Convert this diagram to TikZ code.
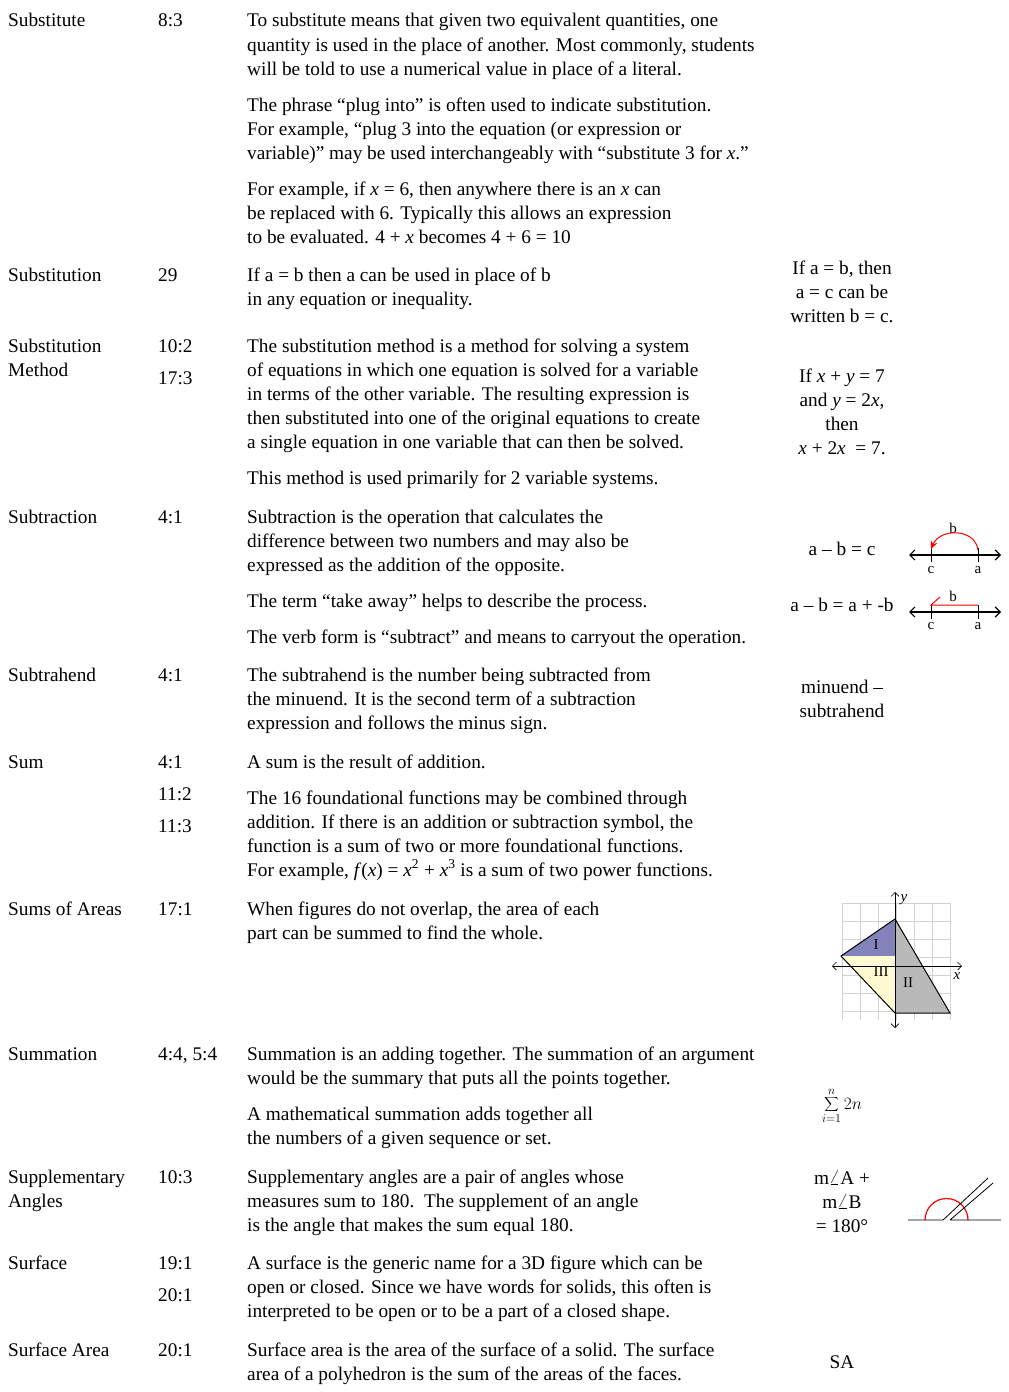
\documentclass[tikz,border=0pt]{standalone}
\usepackage{fontspec}
\setmainfont{Liberation Serif}
\usetikzlibrary{arrows.meta}
\begin{document}
\begin{tikzpicture}[x=1pt,y=-1pt,
  t/.style={anchor=base west,inner sep=0pt,font=\fontsize{19.3}{22}\selectfont},
  c/.style={anchor=base,inner sep=0pt,font=\fontsize{19.3}{22}\selectfont},
  sm/.style={inner sep=0pt,font=\fontsize{15}{16}\selectfont},
  nl/.style={line width=1.2pt,{Straight Barb[length=5pt,width=10pt]}-{Straight Barb[length=5pt,width=10pt]}}]
\useasboundingbox (0,0) rectangle (1009,1392);
\newcommand{\T}[3]{\node[t] at (#1,#2) {#3};}
\newcommand{\C}[3]{\node[c] at (#1,#2) {#3};}
% Substitute
\T{8}{27}{Substitute}\T{158}{27}{8:3}
\T{247}{27}{To substitute means that given two equivalent quantities, one}
\T{247}{51}{quantity is used in the place of another. Most commonly, students}
\T{247}{75}{will be told to use a numerical value in place of a literal.}
\T{247}{111}{The phrase “plug into” is often used to indicate substitution.}
\T{247}{135}{For example, “plug 3 into the equation (or expression or}
\T{247}{159}{variable)” may be used interchangeably with “substitute 3 for \textit{x}.”}
\T{247}{195}{For example, if \textit{x} = 6, then anywhere there is an \textit{x} can}
\T{247}{219}{be replaced with 6. Typically this allows an expression}
\T{247}{243}{to be evaluated. 4 + \textit{x} becomes 4 + 6 = 10}
% Substitution
\T{8}{281}{Substitution}\T{158}{281}{29}
\T{247}{281}{If a = b then a can be used in place of b}
\T{247}{305}{in any equation or inequality.}
\C{842}{274}{If a = b, then}\C{842}{298}{a = c can be}\C{842}{322}{written b = c.}
% Substitution Method
\T{8}{352}{Substitution}\T{8}{376}{Method}\T{158}{352}{10:2}\T{158}{384}{17:3}
\T{247}{352}{The substitution method is a method for solving a system}
\T{247}{376}{of equations in which one equation is solved for a variable}
\T{247}{400}{in terms of the other variable. The resulting expression is}
\T{247}{424}{then substituted into one of the original equations to create}
\T{247}{448}{a single equation in one variable that can then be solved.}
\T{247}{484}{This method is used primarily for 2 variable systems.}
\C{842}{382}{If \textit{x} + \textit{y} = 7}\C{842}{406}{and \textit{y} = 2\textit{x},}\C{842}{430}{then}\C{842}{454}{\textit{x} + 2\textit{x}\ \ = 7.}
% Subtraction
\T{8}{523}{Subtraction}\T{158}{523}{4:1}
\T{247}{523}{Subtraction is the operation that calculates the}
\T{247}{547}{difference between two numbers and may also be}
\T{247}{571}{expressed as the addition of the opposite.}
\T{247}{607}{The term “take away” helps to describe the process.}
\T{247}{643}{The verb form is “subtract” and means to carryout the operation.}
\C{842}{555}{a – b = c}\C{842}{611}{a – b = a + -b}
% number lines
\draw[nl] (909,555) -- (1001,555);
\draw[line width=1pt] (931,548) -- (931,562) (978,548) -- (978,562);
\node[sm] (c1) at (931,570) {c};\node[sm] (a1) at (978,570) {a};
\node[sm] (b1) at (953,528) {b};
\draw[red,line width=1pt,-{Stealth[length=8pt,width=7pt]}] (978,550) .. controls (975,528) and (940,528) .. (931,549);
\draw[nl] (909,612) -- (1001,612);
\draw[line width=1pt] (931,605) -- (931,619) (978,605) -- (978,619);
\node[sm] (c2) at (931,626) {c};\node[sm] (a2) at (978,626) {a};
\node[sm] (b2) at (953,596) {b};
\draw[red,line width=1pt] (940,597) -- (931,605) -- (978,605);
% Subtrahend
\T{8}{681}{Subtrahend}\T{158}{681}{4:1}
\T{247}{681}{The subtrahend is the number being subtracted from}
\T{247}{705}{the minuend. It is the second term of a subtraction}
\T{247}{729}{expression and follows the minus sign.}
\C{842}{693}{minuend –}\C{842}{717}{subtrahend}
% Sum
\T{8}{768}{Sum}\T{158}{768}{4:1}\T{158}{800}{11:2}\T{158}{832}{11:3}
\T{247}{768}{A sum is the result of addition.}
\T{247}{804}{The 16 foundational functions may be combined through}
\T{247}{828}{addition. If there is an addition or subtraction symbol, the}
\T{247}{852}{function is a sum of two or more foundational functions.}
\T{247}{876}{For example, \textit{f}(\textit{x}) = \textit{x}\textsuperscript{2} + \textit{x}\textsuperscript{3} is a sum of two power functions.}
% Sums of Areas
\T{8}{915}{Sums of Areas}\T{158}{915}{17:1}
\T{247}{915}{When figures do not overlap, the area of each}
\T{247}{939}{part can be summed to find the whole.}
\foreach \gx in {842,860,878,896,914,932,950} \draw[gray!35,line width=0.6pt] (\gx,903) -- (\gx,1020);
\foreach \gy in {903,921,939,957,975,993,1011} \draw[gray!35,line width=0.6pt] (842,\gy) -- (950,\gy);
\fill[blue!30!gray!75] (895,919) -- (841,956) -- (895,956) -- cycle;
\fill[orange!20!yellow!18] (841,956) -- (895,956) -- (895,1013) -- cycle;
\fill[gray!55] (895,919) -- (895,1013) -- (950,1013) -- cycle;
\draw[line width=0.6pt,{Straight Barb[length=4pt,width=8pt]}-{Straight Barb[length=4pt,width=8pt]}] (832,966) -- (962,966);
\draw[line width=0.6pt,{Straight Barb[length=4pt,width=8pt]}-{Straight Barb[length=4pt,width=8pt]}] (895,1028) -- (895,892);
\draw[line width=1pt] (895,919) -- (841,956) -- (895,1013) -- (950,1013) -- cycle;
\node[sm] at (876,945) {I};\node[sm] at (881,972) {III};\node[sm] at (908,983) {II};
\node[sm] at (904,900) {\textit{y}};\node[sm] at (957,976) {\textit{x}};
% Summation
\T{8}{1060}{Summation}\T{158}{1060}{4:4, 5:4}
\T{247}{1060}{Summation is an adding together. The summation of an argument}
\T{247}{1084}{would be the summary that puts all the points together.}
\T{247}{1120}{A mathematical summation adds together all}
\T{247}{1144}{the numbers of a given sequence or set.}
\node[inner sep=0pt,font=\fontsize{17}{18}\selectfont] (sig) at (842,1106) {$\displaystyle\sum_{i=1}^{n}2n$};
% Supplementary
\T{8}{1183}{Supplementary}\T{8}{1207}{Angles}\T{158}{1183}{10:3}
\T{247}{1183}{Supplementary angles are a pair of angles whose}
\T{247}{1207}{measures sum to 180.\ \ The supplement of an angle}
\T{247}{1231}{is the angle that makes the sum equal 180.}
\C{842}{1184}{m$\angle$A +}\C{842}{1208}{m$\angle$B}\C{842}{1232}{= 180°}
\draw[red,line width=1.2pt] (925,1220) arc (180:360:21.5);
\draw[line width=0.8pt] (908,1220) -- (943,1220) -- (988,1178) (950,1220) -- (993,1183) (950,1220) -- (1001,1220);
% Surface
\T{8}{1269}{Surface}\T{158}{1269}{19:1}\T{158}{1301}{20:1}
\T{247}{1269}{A surface is the generic name for a 3D figure which can be}
\T{247}{1293}{open or closed. Since we have words for solids, this often is}
\T{247}{1317}{interpreted to be open or to be a part of a closed shape.}
% Surface Area
\T{8}{1356}{Surface Area}\T{158}{1356}{20:1}
\T{247}{1356}{Surface area is the area of the surface of a solid. The surface}
\T{247}{1380}{area of a polyhedron is the sum of the areas of the faces.}
\C{842}{1368}{SA}
\end{tikzpicture}
\end{document}
